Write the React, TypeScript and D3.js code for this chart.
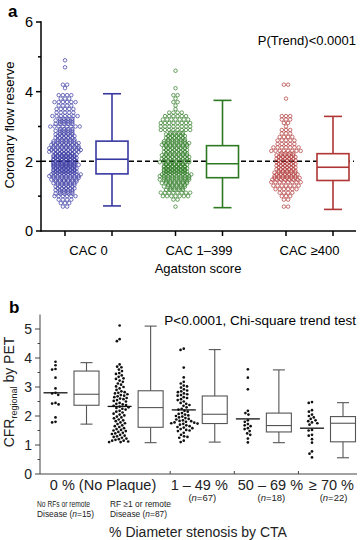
import React from 'react';
import * as d3 from 'd3';

// ---------- Panel a data ----------
const groupsA = ['CAC 0', 'CAC 1–399', 'CAC ≥400'];
const colorsA = ['#3838a2', '#2d7a22', '#b03535'];
const binsA = [4.9, 4.8, 4.7, 4.6, 4.5, 4.4, 4.3, 4.2, 4.1, 4.0, 3.9, 3.8, 3.7, 3.6, 3.5, 3.4, 3.3, 3.2, 3.1, 3.0, 2.9, 2.8, 2.7, 2.6, 2.5, 2.4, 2.3, 2.2, 2.1, 2.0, 1.9, 1.8, 1.7, 1.6, 1.5, 1.4, 1.3, 1.2, 1.1, 1.0, 0.9, 0.8, 0.7];
const countsCAC0 = [1, 0, 1, 0, 0, 0, 0, 2, 1, 0, 4, 3, 6, 4, 5, 5, 7, 9, 9, 8, 9, 9, 10, 11, 14, 15, 16, 17, 18, 18, 19, 18, 18, 16, 14, 12, 10, 10, 9, 6, 4, 3, 2];
const countsCAC1 = [0, 0, 0, 1, 0, 0, 0, 0, 1, 0, 2, 1, 2, 1, 1, 4, 6, 7, 8, 8, 8, 9, 10, 11, 14, 12, 12, 13, 14, 15, 17, 18, 18, 16, 15, 13, 11, 9, 8, 7, 2, 0, 1];
const countsCAC400 = [0, 0, 0, 0, 0, 0, 0, 2, 0, 0, 0, 1, 0, 0, 0, 0, 3, 3, 2, 1, 3, 3, 4, 5, 5, 7, 8, 9, 10, 10, 10, 10, 11, 12, 14, 8, 7, 6, 4, 3, 2, 0, 2];
const countsA = [countsCAC0, countsCAC1, countsCAC400];
const whiskerLowA = [0.72, 0.67, 0.62];
const q1A = [1.64, 1.53, 1.45];
const medianA = [2.06, 1.93, 1.83];
const q3A = [2.58, 2.45, 2.22];
const whiskerHighA = [3.94, 3.75, 3.29];
const ticksA = [0, 2, 4, 6];
const minorTicksA = [1, 3, 5];

// ---------- Panel b data ----------
const groupsB = ['0a', '0b', '1-49', '50-69', '>=70'];
const noRFValues = [3.87, 3.75, 3.62, 3.6, 3.32, 2.95, 2.8, 2.78, 2.73, 2.45, 2.43, 2.4, 1.95, 1.8, 1.78];
const rfValues = [5.12, 4.65, 4.58, 3.78, 3.7, 3.68, 3.6, 3.55, 3.48, 3.45, 3.4, 3.35, 3.3, 3.28, 3.22, 3.18, 3.12, 3.08, 3.02, 3.0, 2.95, 2.9,
  2.85, 2.82, 2.8, 2.78, 2.75, 2.72, 2.7, 2.68, 2.65, 2.62, 2.6, 2.58, 2.55, 2.52, 2.5, 2.45, 2.42, 2.4, 2.38, 2.35, 2.32, 2.3,
  2.28, 2.25, 2.22, 2.18, 2.15, 2.12, 2.08, 2.05, 2.02, 1.98, 1.95, 1.92, 1.88, 1.85, 1.82, 1.78, 1.75, 1.72, 1.68, 1.65, 1.62,
  1.58, 1.55, 1.52, 1.5, 1.48, 1.45, 1.42, 1.4, 1.38, 1.35, 1.32, 1.3, 1.28, 1.25, 1.22, 1.2, 1.18, 1.15, 1.15, 1.12, 1.1, 1.1];
const sten1Values = [4.32, 4.28, 3.67, 3.33, 3.18, 3.12, 3.05, 3.02, 2.98, 2.92, 2.88, 2.85, 2.82, 2.78, 2.75, 2.72, 2.7,
  2.65, 2.62, 2.58, 2.55, 2.5, 2.45, 2.42, 2.38, 2.35, 2.3, 2.25, 2.22, 2.18, 2.15, 2.1, 2.07, 2.05,
  2.02, 2.0, 1.98, 1.95, 1.93, 1.9, 1.88, 1.85, 1.83, 1.82, 1.8, 1.78, 1.77, 1.75, 1.74, 1.73,
  1.7, 1.68, 1.65, 1.62, 1.6, 1.58, 1.55, 1.52, 1.5, 1.48, 1.42, 1.35, 1.3, 1.28, 1.25, 1.15, 1.1];
const sten50Values = [3.61, 3.32, 2.92, 2.18, 2.1, 2.05, 1.85, 1.8, 1.72, 1.68, 1.65, 1.58, 1.55, 1.48, 1.4, 1.35, 1.22, 1.09];
const sten70Values = [2.48, 2.45, 2.2, 2.15, 2.05, 2.0, 1.95, 1.9, 1.85, 1.82, 1.78, 1.75, 1.7, 1.52, 1.5, 1.35, 1.32, 1.2, 1.08, 0.78, 0.7, 0.57];
const valuesB = [noRFValues, rfValues, sten1Values, sten50Values, sten70Values];
const meanLineB = [2.8, 2.33, 2.21, 1.9, 1.58];
const whiskerLowB = [1.72, 1.08, 1.1, 1.08, 0.56];
const q1B = [2.37, 1.61, 1.74, 1.45, 1.11];
const medianB = [2.75, 2.29, 2.06, 1.67, 1.75];
const q3B = [3.55, 2.87, 2.69, 2.1, 1.98];
const whiskerHighB = [3.84, 5.1, 4.29, 3.59, 2.46];
const ticksB = [0, 1, 2, 3, 4, 5];
const minorTicksB = [0.5, 1.5, 2.5, 3.5, 4.5];

const FONT = 'Liberation Sans, Arial, Helvetica, sans-serif';

type P = { x: number; y: number };

function binLayout(counts: number[], cx: number, y: d3.ScaleLinear<number, number>): P[] {
  const pts: P[] = [];
  const sp = 4.2;
  const perRow = 8;
  binsA.forEach((b, i) => {
    const n = counts[i];
    if (!n) return;
    const rows = Math.ceil(n / perRow);
    let placed = 0;
    for (let r = 0; r < rows; r++) {
      const k = Math.round((n - placed) / (rows - r));
      const v = b + 0.1 * ((r + 0.5) / rows - 0.5);
      const stagger = rows > 1 ? (r % 2 ? sp / 4 : -sp / 4) : 0;
      for (let j = 0; j < k; j++) {
        pts.push({ x: cx + (j - (k - 1) / 2) * sp + stagger, y: y(v) });
      }
      placed += k;
    }
  });
  return pts;
}

function swarm(values: number[], cx: number, y: d3.ScaleLinear<number, number>, d: number): P[] {
  const placed: { dx: number; y: number }[] = [];
  const sorted = [...values].sort((a, b) => b - a);
  for (const v of sorted) {
    const py = y(v);
    const cands = [0];
    for (const p of placed) {
      const dy = py - p.y;
      if (Math.abs(dy) < d) {
        const dx = Math.sqrt(d * d - dy * dy);
        cands.push(p.dx + dx, p.dx - dx);
      }
    }
    cands.sort((a, b) => Math.abs(a) - Math.abs(b) || a - b);
    let chosen = 0;
    for (const c of cands) {
      const ok = placed.every((p) => (c - p.dx) ** 2 + (py - p.y) ** 2 >= d * d - 1e-6);
      if (ok) { chosen = c; break; }
    }
    placed.push({ dx: chosen, y: py });
  }
  return placed.map((p) => ({ x: cx + p.dx, y: p.y }));
}

export default function App() {
  // Panel a scales
  const yA = d3.scaleLinear().domain([0, 6]).range([231, 22]);
  const xA = d3.scalePoint<string>().domain(groupsA).range([88.5, 309.5]);
  const offA = 23.5;
  const axisXA = 41;
  const rightA = 356;
  const boxWA = 32;
  const capWA = 18;

  // Panel b scales
  const yB = d3.scaleLinear().domain([0, 5]).range([474, 329]);
  const xB = d3.scalePoint<string>().domain(groupsB).range([71, 327.5]);
  const offB = 15.5;
  const axisXB = 40;
  const rightB = 357;
  const boxWB = 25;
  const capWB = 12;
  const stepB = xB.step();

  return (
    <svg width={360} height={540} style={{ position: 'absolute', left: 0, top: 0, background: '#fff' }} fontFamily={FONT}>
      <rect x={0} y={0} width={360} height={540} fill="#fff" />
      {/* ================= Panel a ================= */}
      <text x={8} y={17} fontSize={17} fontWeight="bold">a</text>
      {/* dashed reference line */}
      <line x1={axisXA} x2={rightA - 2} y1={yA(2)} y2={yA(2)} stroke="#000" strokeWidth={1.5} strokeDasharray="5,3" />
      {/* scatter */}
      {groupsA.map((g, gi) => (
        <g key={g} fill="none" stroke={colorsA[gi]} strokeWidth={0.7}>
          {binLayout(countsA[gi], (xA(g) as number) - offA, yA).map((p, i) => (
            <circle key={i} cx={p.x} cy={p.y} r={1.75} />
          ))}
        </g>
      ))}
      {/* boxes */}
      {groupsA.map((g, gi) => {
        const cx = (xA(g) as number) + offA;
        return (
          <g key={g} stroke={colorsA[gi]} strokeWidth={1.6}>
            <line x1={cx} x2={cx} y1={yA(whiskerHighA[gi])} y2={yA(q3A[gi])} />
            <line x1={cx} x2={cx} y1={yA(q1A[gi])} y2={yA(whiskerLowA[gi])} />
            <line x1={cx - capWA / 2} x2={cx + capWA / 2} y1={yA(whiskerHighA[gi])} y2={yA(whiskerHighA[gi])} />
            <line x1={cx - capWA / 2} x2={cx + capWA / 2} y1={yA(whiskerLowA[gi])} y2={yA(whiskerLowA[gi])} />
            <rect x={cx - boxWA / 2} y={yA(q3A[gi])} width={boxWA} height={yA(q1A[gi]) - yA(q3A[gi])} fill="#fff" />
            <line x1={cx - boxWA / 2} x2={cx + boxWA / 2} y1={yA(medianA[gi])} y2={yA(medianA[gi])} />
          </g>
        );
      })}
      {/* axes */}
      <g stroke="#000" strokeWidth={1.5}>
        <line x1={axisXA} x2={axisXA} y1={yA(6) - 0.75} y2={yA(0) + 0.75} />
        <line x1={axisXA} x2={rightA} y1={yA(0)} y2={yA(0)} />
        {ticksA.map((t) => (
          <line key={t} x1={axisXA - 5} x2={axisXA} y1={yA(t)} y2={yA(t)} />
        ))}
        {minorTicksA.map((t) => (
          <line key={t} x1={axisXA - 3} x2={axisXA} y1={yA(t)} y2={yA(t)} />
        ))}
        {groupsA.map((g) => (
          <g key={g}>
            <line x1={(xA(g) as number) - offA} x2={(xA(g) as number) - offA} y1={yA(0)} y2={yA(0) + 5} />
            <line x1={(xA(g) as number) + offA} x2={(xA(g) as number) + offA} y1={yA(0)} y2={yA(0) + 5} />
          </g>
        ))}
      </g>
      {ticksA.map((t) => (
        <text key={t} x={axisXA - 8} y={yA(t)} dy="0.36em" textAnchor="end" fontSize={14.5}>{t}</text>
      ))}
      {groupsA.map((g) => (
        <text key={g} x={xA(g) as number} y={255} textAnchor="middle" fontSize={13}>{g}</text>
      ))}
      <text x={198} y={273} textAnchor="middle" fontSize={13}>Agatston score</text>
      <text transform="translate(14,125) rotate(-90)" textAnchor="middle" fontSize={13}>Coronary flow reserve</text>
      <text x={356} y={45} textAnchor="end" fontSize={13}>P(Trend)&lt;0.0001</text>

      {/* ================= Panel b ================= */}
      <text x={9} y={313} fontSize={17} fontWeight="bold">b</text>
      <text x={356} y={325} textAnchor="end" fontSize={13.5}>P&lt;0.0001, Chi-square trend test</text>
      {/* dots */}
      {groupsB.map((g, gi) => (
        <g key={g} fill="#111">
          {swarm(valuesB[gi], (xB(g) as number) - offB, yB, 3.4).map((p, i) => (
            <circle key={i} cx={p.x} cy={p.y} r={1.35} />
          ))}
          <line x1={(xB(g) as number) - offB - 12} x2={(xB(g) as number) - offB + 12} y1={yB(meanLineB[gi])} y2={yB(meanLineB[gi])} stroke="#111" strokeWidth={1.3} />
        </g>
      ))}
      {/* boxes */}
      {groupsB.map((g, gi) => {
        const cx = (xB(g) as number) + offB;
        return (
          <g key={g} stroke="#555" strokeWidth={1.1}>
            <line x1={cx} x2={cx} y1={yB(whiskerHighB[gi])} y2={yB(q3B[gi])} />
            <line x1={cx} x2={cx} y1={yB(q1B[gi])} y2={yB(whiskerLowB[gi])} />
            <line x1={cx - capWB / 2} x2={cx + capWB / 2} y1={yB(whiskerHighB[gi])} y2={yB(whiskerHighB[gi])} />
            <line x1={cx - capWB / 2} x2={cx + capWB / 2} y1={yB(whiskerLowB[gi])} y2={yB(whiskerLowB[gi])} />
            <rect x={cx - boxWB / 2} y={yB(q3B[gi])} width={boxWB} height={yB(q1B[gi]) - yB(q3B[gi])} fill="#fff" />
            <line x1={cx - boxWB / 2} x2={cx + boxWB / 2} y1={yB(medianB[gi])} y2={yB(medianB[gi])} />
          </g>
        );
      })}
      {/* axes */}
      <g stroke="#444" strokeWidth={1}>
        <line x1={axisXB} x2={axisXB} y1={yB(5.5)} y2={yB(0)} />
        <line x1={axisXB} x2={rightB} y1={yB(0)} y2={yB(0)} />
        {ticksB.map((t) => (
          <line key={t} x1={axisXB - 5} x2={axisXB} y1={yB(t)} y2={yB(t)} />
        ))}
        {minorTicksB.map((t) => (
          <line key={t} x1={axisXB - 2.5} x2={axisXB} y1={yB(t)} y2={yB(t)} />
        ))}
        {groupsB.slice(2).map((g) => (
          <line key={g} x1={(xB(g) as number) - stepB / 2 + 3} x2={(xB(g) as number) - stepB / 2 + 3} y1={yB(0)} y2={yB(0) - 3} />
        ))}
      </g>
      {ticksB.map((t) => (
        <text key={t} x={axisXB - 8} y={yB(t)} dy="0.36em" textAnchor="end" fontSize={14} fill="#222">{t}</text>
      ))}
      <text transform="translate(14,392) rotate(-90)" textAnchor="middle" fontSize={14} fill="#222">
        CFR<tspan fontSize={9} dy={3}>regional</tspan><tspan dy={-3}> by PET</tspan>
      </text>
      <g fill="#222">
        <text x={((xB('0a') as number) + (xB('0b') as number)) / 2} y={490} textAnchor="middle" fontSize={14.5}>0 % (No Plaque)</text>
        <text x={37} y={506.5} fontSize={8.6} textLength={53} lengthAdjust="spacingAndGlyphs">No RFs or remote</text>
        <text x={37} y={516.5} fontSize={8.6} textLength={57} lengthAdjust="spacingAndGlyphs">Disease (<tspan fontStyle="italic">n</tspan>=15)</text>
        <text x={110} y={506.5} fontSize={8.6} textLength={61} lengthAdjust="spacingAndGlyphs">RF ≥1 or remote</text>
        <text x={110} y={516.5} fontSize={8.6} textLength={57} lengthAdjust="spacingAndGlyphs">Disease (<tspan fontStyle="italic">n</tspan>=87)</text>
        <text x={(xB('1-49') as number)} y={490} textAnchor="middle" fontSize={14.5}>1 – 49 %</text>
        <text x={(xB('1-49') as number) + 3} y={501} textAnchor="middle" fontSize={9.5}>(<tspan fontStyle="italic">n</tspan>=67)</text>
        <text x={(xB('50-69') as number) + 7} y={490} textAnchor="middle" fontSize={14.5}>50 – 69 %</text>
        <text x={(xB('50-69') as number) + 8} y={501} textAnchor="middle" fontSize={9.5}>(<tspan fontStyle="italic">n</tspan>=18)</text>
        <text x={(xB('>=70') as number) + 4} y={490} textAnchor="middle" fontSize={14.5}>≥ 70 %</text>
        <text x={(xB('>=70') as number) + 6} y={501} textAnchor="middle" fontSize={9.5}>(<tspan fontStyle="italic">n</tspan>=22)</text>
        <text x={198} y={537} textAnchor="middle" fontSize={14}>% Diameter stenosis by CTA</text>
      </g>
    </svg>
  );
}
